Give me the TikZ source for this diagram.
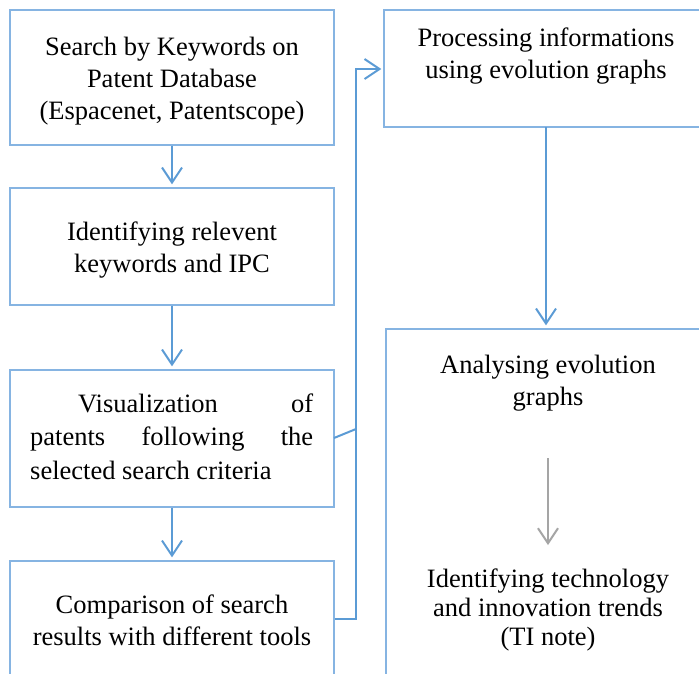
\documentclass[tikz,border=0pt]{standalone}
\usepackage{fontspec}
\setmainfont{Liberation Serif}
\usetikzlibrary{arrows.meta}
\definecolor{boxblue}{HTML}{86B4E2}
\definecolor{lineblue}{HTML}{5B9BD5}
\definecolor{arrgray}{HTML}{A5A5A5}
\begin{document}
\begin{tikzpicture}[x=1pt,y=-1pt,
  box/.style={draw=boxblue,line width=1.3pt,rectangle,inner sep=0pt},
  txt/.style={font=\fontsize{26.5}{32}\selectfont,align=center,inner sep=0pt,anchor=base},
  flow/.style={draw=lineblue,line width=2pt,-{Straight Barb[length=15pt,width=20pt,line width=2pt]}},
  link/.style={draw=lineblue,line width=2pt},
  garrow/.style={draw=arrgray,line width=2pt,-{Straight Barb[length=15pt,width=20pt,line width=2pt]}}]
\clip (0,0) rectangle (699,673);
\fill[white] (0,0) rectangle (699,673);
% left column boxes
\node[box,minimum width=324pt,minimum height=135pt] (b1) at (172,77.5) {};
\node[box,minimum width=324pt,minimum height=117pt] (b2) at (172,246.5) {};
\node[box,minimum width=324pt,minimum height=137pt] (b3) at (172,438.5) {};
\node[box,minimum width=324pt,minimum height=140pt] (b4) at (172,631) {};
% right column boxes
\node[box,minimum width=340pt,minimum height=117pt] (p) at (554,68.5) {};
\node[box,minimum width=340pt,minimum height=380pt] (a) at (556,519) {};
% texts (anchored at the baseline of the last line)
\node[txt] (t1) at (172,119) {Search by Keywords on\\Patent Database\\(Espacenet, Patentscope)};
\node[txt] (t2) at (172,272) {Identifying relevent\\keywords and IPC};
\node[txt,font=\fontsize{26.5}{33.5}\selectfont,align=left,anchor=base west] (t3) at (30,479) {\hbox to 283pt{\hspace*{48pt}Visualization\hfill of}\\\hbox to 283pt{patents\hfill following\hfill the}\\selected search criteria};
\node[txt] (t4) at (172,645) {Comparison of search\\results with different tools};
\node[txt] (tp) at (546,78) {Processing informations\\using evolution graphs};
\node[txt] (ta) at (548,405) {Analysing evolution\\graphs};
\node[txt,font=\fontsize{26.5}{29}\selectfont] (ti) at (548,645) {Identifying technology\\and innovation trends\\(TI note)};
% connectors
\draw[flow,shorten >=3pt] (b1) -- (b2);
\draw[flow,shorten >=3pt] (b2) -- (b3);
\draw[flow,shorten >=3pt] (b3) -- (b4);
\coordinate (j4) at (356,619);
\coordinate (j3) at (356,429);
\coordinate (jt) at (356,69);
\coordinate (e3) at (334,438);
\draw[link] (b4.east |- j4) -- (j4) -- (j3);
\draw[link] (e3) -- (j3);
\draw[flow,shorten >=2pt] (j3) -- (jt) -- (p.west |- jt);
\coordinate (pa) at (546,127);
\draw[flow,shorten >=3pt] (pa) -- (a.north -| pa);
\coordinate (g1) at (548,458);
\coordinate (g2) at (548,545);
\draw[garrow] (g1) -- (g2);
\end{tikzpicture}
\end{document}
